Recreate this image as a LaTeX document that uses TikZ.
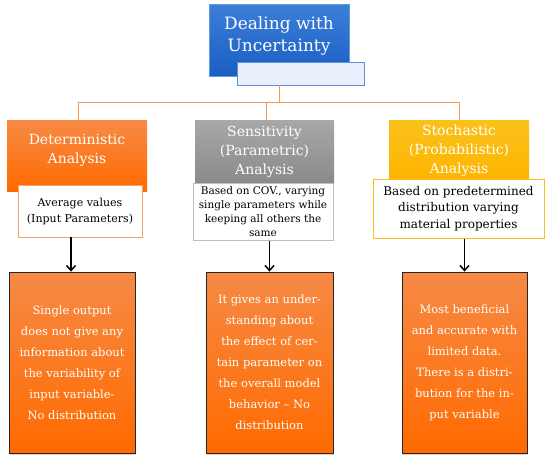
\documentclass[tikz,border=0pt]{standalone}
\usepackage{fontspec}
\setmainfont{DejaVu Serif}
\usetikzlibrary{arrows.meta,shadows}
\definecolor{topblueA}{HTML}{3C7FD8}
\definecolor{topblueB}{HTML}{1A5EC4}
\definecolor{subblue}{HTML}{EAF0FB}
\definecolor{subborder}{HTML}{5B8FDB}
\definecolor{orA}{HTML}{F68A45}
\definecolor{orB}{HTML}{FF6A00}
\definecolor{grA}{HTML}{A8A8A8}
\definecolor{grB}{HTML}{8A8A8A}
\definecolor{yeA}{HTML}{F9C11A}
\definecolor{yeB}{HTML}{FFB400}
\definecolor{treeline}{HTML}{F7964E}
\tikzset{
  x=1pt,y=-1pt,
  hdr/.style={rectangle,inner sep=2pt,align=center,text=white,font=\fontsize{14}{19}\selectfont},
  wbox/.style={rectangle,fill=white,draw,line width=1pt,inner sep=1pt,align=center,text=black},
  outbox/.style={rectangle,draw=black!85,line width=0.8pt,top color=orA,bottom color=orB,
     minimum width=126pt,minimum height=181pt,align=center,text=white,
     font=\fontsize{11.5}{21}\selectfont,drop shadow={shadow xshift=1pt,shadow yshift=-2pt,opacity=0.35}},
  tree/.style={draw=treeline,line width=1pt},
  arr/.style={draw=black,line width=1.8pt,-{Straight Barb[length=5pt,width=9pt,line width=1.5pt]}}
}
\begin{document}
\begin{tikzpicture}
\useasboundingbox (0,0) rectangle (550,464);
% top
\node[rectangle,top color=topblueA,bottom color=topblueB,draw=topblueA!80,line width=0.5pt,
  minimum width=140pt,minimum height=72pt] (top) at (279,40) {};
\node[text=white,align=center,font=\fontsize{17}{22}\selectfont] (toptext) at (279,36) {Dealing with\\Uncertainty};
\node[rectangle,fill=subblue,draw=subborder,line width=1pt,minimum width=127pt,minimum height=23pt] (sub) at (300.5,73.5) {};
% headers
\node[hdr,top color=orA,bottom color=orB,minimum width=140pt,minimum height=71pt] (det) at (77,155.5) {};
\node[hdr] (dettext) at (77,150.5) {Deterministic\\Analysis};
\node[hdr,top color=grA,bottom color=grB,minimum width=139pt,minimum height=63pt] (sens) at (264.5,151.5) {Sensitivity\\(Parametric)\\Analysis};
\node[hdr,top color=yeA,bottom color=yeB,minimum width=140pt,minimum height=62pt] (stoch) at (459,151) {Stochastic\\(Probabilistic)\\Analysis};
% white boxes
\node[wbox,draw=orA!80,minimum width=124pt,minimum height=52pt,font=\fontsize{11}{16}\selectfont] (detw) at (80,211) {Average values\\(Input Parameters)};
\node[wbox,draw=black!25,minimum width=140pt,minimum height=57pt,font=\fontsize{10.5}{14.2}\selectfont] (sensw) at (263,211.5) {Based on COV., varying\\single parameters while\\keeping all others the\\same};
\node[wbox,draw=yeA,minimum width=171pt,minimum height=59pt,font=\fontsize{12}{16.5}\selectfont] (stochw) at (458.5,208.5) {Based on predetermined\\distribution varying\\material properties};
% bottom boxes
\node[outbox] (b1) at (72,362.5) {Single output\\does not give any\\information about\\the variability of\\input variable-\\No distribution};
\node[outbox,minimum width=127pt] (b2) at (269.5,362.5) {It gives an under-\\standing about\\the effect of cer-\\tain parameter on\\the overall model\\behavior -- No\\distribution};
\node[outbox,minimum width=125pt] (b3) at (464.5,362.5) {Most beneficial\\and accurate with\\limited data.\\There is a distri-\\bution for the in-\\put variable};
% tree
\coordinate (hub) at (279,102);
\coordinate (tb) at (279,85);
\path[tree] (tb) -- (hub);
\path[tree] (det.north) ++(1,0) |- (hub);
\path[tree] (hub) -| (stoch.north);
\path[tree] (sens.north) ++(1.5,0) |- (hub);
% arrows
\coordinate (a1) at (71,237);
\draw[arr] (a1) -- (b1.north -| a1);
\draw[arr] (sensw.south -| b2.north) -- (b2.north);
\draw[arr] (stochw.south -| b3.north) -- (b3.north);
\end{tikzpicture}
\end{document}
